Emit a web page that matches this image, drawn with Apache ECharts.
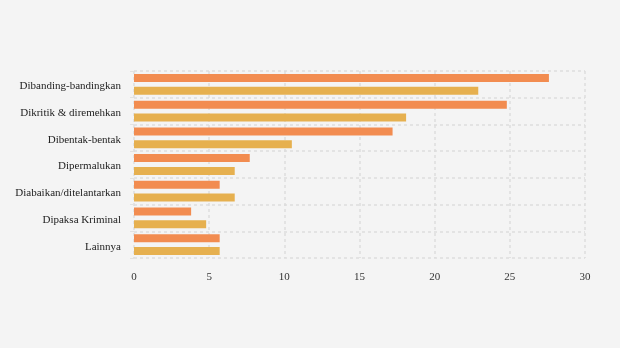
<!DOCTYPE html>
<html><head><meta charset="utf-8">
<script src="https://cdn.jsdelivr.net/npm/echarts@6/dist/echarts.min.js"></script>
<style>html,body{margin:0;padding:0;background:#f4f4f4}#c{width:620px;height:348px}</style>
</head><body><div id="c"></div>
<script>
const categories = ["Dibanding-bandingkan","Dikritik & diremehkan","Dibentak-bentak","Dipermalukan","Diabaikan/ditelantarkan","Dipaksa Kriminal","Lainnya"];
const seriesA = [27.6, 24.8, 17.2, 7.7, 5.7, 3.8, 5.7];
const seriesB = [22.9, 18.1, 10.5, 6.7, 6.7, 4.8, 5.7];
const xTicks = {min: 0, max: 30, interval: 5};
const chart = echarts.init(document.getElementById('c'));
const font = "'Liberation Serif', 'Times New Roman', serif";
chart.setOption({
  backgroundColor: '#f4f4f4',
  animation: false,
  grid: {left: 134, right: 35, top: 71, bottom: 90, containLabel: false},
  xAxis: {
    type: 'value', min: xTicks.min, max: xTicks.max, interval: xTicks.interval,
    axisLine: {show: false}, axisTick: {show: false},
    axisLabel: {color: '#333', fontFamily: font, fontSize: 11, margin: 14},
    splitLine: {show: true, lineStyle: {color: '#dddddd', type: [3, 3], width: 1.5}}
  },
  yAxis: {
    type: 'category', data: categories, inverse: true,
    axisLine: {show: false},
    axisTick: {show: true, length: 4, lineStyle: {color: '#e2e2e2'}},
    axisLabel: {color: '#222', fontFamily: font, fontSize: 11, margin: 13,
      formatter: v => '{a|' + v + '}',
      rich: {a: {fontFamily: font, fontSize: 11, color: '#222', padding: [4, 0, 0, 0]}}},
    splitLine: {show: true, lineStyle: {color: '#dddddd', type: [3, 3], width: 1.5}}
  },
  series: [
    {type: 'bar', data: seriesA, barWidth: 8, barGap: '60%', itemStyle: {color: '#f28c50'}},
    {type: 'bar', data: seriesB, barWidth: 8, itemStyle: {color: '#e6b04f'}}
  ]
});
</script></body></html>
